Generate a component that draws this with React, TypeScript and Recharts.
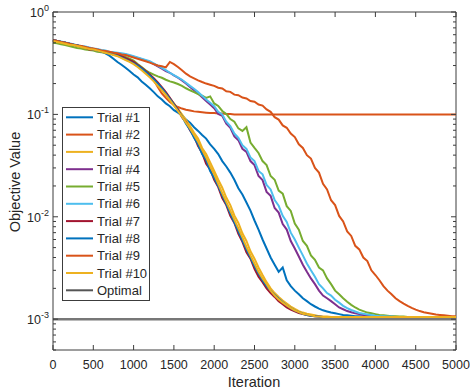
import React from "react";
import { LineChart, Line, XAxis, YAxis, Legend, ReferenceLine } from "recharts";

const iterations = [
  0, 50, 100, 150, 200, 250, 300, 350, 400, 450,
  500, 550, 600, 650, 700, 750, 800, 850, 900, 950,
  1000, 1050, 1100, 1150, 1200, 1250, 1300, 1350, 1400, 1450,
  1500, 1550, 1600, 1650, 1700, 1750, 1800, 1850, 1900, 1950,
  2000, 2050, 2100, 2150, 2200, 2250, 2300, 2350, 2400, 2450,
  2500, 2550, 2600, 2650, 2700, 2750, 2800, 2850, 2900, 2950,
  3000, 3050, 3100, 3150, 3200, 3250, 3300, 3350, 3400, 3450,
  3500, 3550, 3600, 3650, 3700, 3750, 3800, 3850, 3900, 3950,
  4000, 4050, 4100, 4150, 4200, 4250, 4300, 4350, 4400, 4450,
  4500, 4550, 4600, 4650, 4700, 4750, 4800, 4850, 4900, 4950,
  5000,
];

const trial1 = [
  0.53, 0.52, 0.51, 0.5, 0.49, 0.48, 0.47, 0.46, 0.45, 0.44,
  0.43, 0.42, 0.41, 0.395, 0.375, 0.35, 0.325, 0.305, 0.285, 0.265,
  0.245, 0.23, 0.21, 0.195, 0.18, 0.165, 0.15, 0.14, 0.128, 0.12,
  0.11, 0.104, 0.098, 0.089, 0.083, 0.075, 0.069, 0.063, 0.058, 0.051,
  0.046, 0.041, 0.035, 0.031, 0.027, 0.023, 0.019, 0.0165, 0.0138, 0.0115,
  0.0092, 0.0075, 0.006, 0.0049, 0.004, 0.0034, 0.0029, 0.0032, 0.0024, 0.0021,
  0.0019, 0.00175, 0.0016, 0.0015, 0.0014, 0.00133, 0.00127, 0.00122, 0.00119, 0.00116,
  0.00114, 0.00112, 0.0011, 0.00109, 0.00108, 0.00107, 0.00107, 0.00106, 0.00106, 0.00106,
  0.00105, 0.00105, 0.00105, 0.00105, 0.00105, 0.00105, 0.00105, 0.00105, 0.00105, 0.00105,
  0.00105, 0.00105, 0.00105, 0.00105, 0.00105, 0.00105, 0.00105, 0.00105, 0.00105, 0.00105,
  0.00105,
];

const trial2 = [
  0.53, 0.52, 0.51, 0.5, 0.49, 0.48, 0.47, 0.46, 0.45, 0.44,
  0.435, 0.425, 0.415, 0.405, 0.4, 0.39, 0.38, 0.365, 0.35, 0.335,
  0.32, 0.3, 0.28, 0.26, 0.24, 0.215, 0.185, 0.16, 0.145, 0.132,
  0.124, 0.118, 0.114, 0.111, 0.109, 0.107, 0.106, 0.105, 0.104, 0.103,
  0.103, 0.102, 0.102, 0.101, 0.101, 0.1, 0.1, 0.1, 0.1, 0.1,
  0.1, 0.1, 0.1, 0.1, 0.1, 0.1, 0.1, 0.1, 0.1, 0.1,
  0.1, 0.1, 0.1, 0.1, 0.1, 0.1, 0.1, 0.1, 0.1, 0.1,
  0.1, 0.1, 0.1, 0.1, 0.1, 0.1, 0.1, 0.1, 0.1, 0.1,
  0.1, 0.1, 0.1, 0.1, 0.1, 0.1, 0.1, 0.1, 0.1, 0.1,
  0.1, 0.1, 0.1, 0.1, 0.1, 0.1, 0.1, 0.1, 0.1, 0.1,
  0.1,
];

const trial3 = [
  0.53, 0.52, 0.505, 0.495, 0.485, 0.475, 0.465, 0.455, 0.445, 0.44,
  0.43, 0.42, 0.415, 0.405, 0.395, 0.385, 0.375, 0.36, 0.345, 0.33,
  0.315, 0.295, 0.275, 0.255, 0.235, 0.215, 0.195, 0.18, 0.16, 0.143,
  0.128, 0.113, 0.1, 0.088, 0.077, 0.066, 0.058, 0.047, 0.041, 0.034,
  0.028, 0.023, 0.0192, 0.0154, 0.013, 0.0103, 0.0087, 0.0069, 0.0058, 0.0046,
  0.0039, 0.0032, 0.0027, 0.0023, 0.002, 0.0018, 0.00165, 0.00152, 0.00142, 0.00133,
  0.00126, 0.0012, 0.00116, 0.00113, 0.00111, 0.00109, 0.00107, 0.00106, 0.00106, 0.00105,
  0.00105, 0.00105, 0.00105, 0.00105, 0.00105, 0.00105, 0.00105, 0.00105, 0.00105, 0.00105,
  0.00105, 0.00105, 0.00105, 0.00105, 0.00105, 0.00105, 0.00105, 0.00105, 0.00105, 0.00105,
  0.00105, 0.00105, 0.00105, 0.00105, 0.00105, 0.00105, 0.00105, 0.00105, 0.00105, 0.00105,
  0.00105,
];

const trial4 = [
  0.53, 0.52, 0.51, 0.5, 0.49, 0.48, 0.47, 0.46, 0.455, 0.445,
  0.435, 0.43, 0.42, 0.415, 0.405, 0.4, 0.395, 0.39, 0.385, 0.375,
  0.365, 0.355, 0.345, 0.335, 0.325, 0.31, 0.295, 0.28, 0.265, 0.255,
  0.24, 0.228, 0.215, 0.2, 0.185, 0.172, 0.16, 0.147, 0.135, 0.125,
  0.115, 0.101, 0.097, 0.081, 0.074, 0.061, 0.056, 0.046, 0.043, 0.035,
  0.032, 0.025, 0.0228, 0.0175, 0.016, 0.0122, 0.011, 0.0085, 0.0075, 0.0058,
  0.0049, 0.0041, 0.0034, 0.0029, 0.0025, 0.0022, 0.0019, 0.0017, 0.0016, 0.0015,
  0.0014, 0.0013, 0.00125, 0.0012, 0.00117, 0.00114, 0.00112, 0.0011, 0.00109, 0.00108,
  0.00107, 0.00107, 0.00106, 0.00106, 0.00106, 0.00105, 0.00105, 0.00105, 0.00105, 0.00105,
  0.00105, 0.00105, 0.00105, 0.00105, 0.00105, 0.00105, 0.00105, 0.00105, 0.00105, 0.00105,
  0.00105,
];

const trial5 = [
  0.5, 0.495, 0.485, 0.475, 0.465, 0.455, 0.445, 0.44, 0.43, 0.425,
  0.42, 0.41, 0.405, 0.4, 0.395, 0.39, 0.385, 0.375, 0.365, 0.35,
  0.335, 0.31, 0.29, 0.27, 0.255, 0.245, 0.235, 0.228, 0.218, 0.21,
  0.205, 0.198, 0.19, 0.18, 0.172, 0.165, 0.158, 0.152, 0.145, 0.15,
  0.128, 0.121, 0.108, 0.101, 0.09, 0.085, 0.073, 0.069, 0.075, 0.053,
  0.047, 0.042, 0.035, 0.032, 0.025, 0.023, 0.018, 0.0168, 0.0127, 0.0114,
  0.0086, 0.0075, 0.0058, 0.0052, 0.0042, 0.0038, 0.0032, 0.003, 0.0025, 0.0022,
  0.0019, 0.00175, 0.0016, 0.00148, 0.00138, 0.0013, 0.00124, 0.0012, 0.00116, 0.00114,
  0.00112, 0.0011, 0.00109, 0.00108, 0.00107, 0.00107, 0.00106, 0.00106, 0.00105, 0.00105,
  0.00105, 0.00105, 0.00105, 0.00105, 0.00105, 0.00105, 0.00105, 0.00105, 0.00105, 0.00105,
  0.00105,
];

const trial6 = [
  0.53, 0.52, 0.515, 0.505, 0.495, 0.485, 0.475, 0.465, 0.46, 0.45,
  0.44, 0.435, 0.425, 0.42, 0.41, 0.405, 0.4, 0.395, 0.39, 0.38,
  0.37, 0.36, 0.35, 0.34, 0.33, 0.315, 0.3, 0.285, 0.27, 0.255,
  0.242, 0.23, 0.218, 0.204, 0.19, 0.178, 0.165, 0.152, 0.14, 0.13,
  0.12, 0.106, 0.1, 0.085, 0.077, 0.065, 0.059, 0.05, 0.046, 0.038,
  0.035, 0.028, 0.026, 0.0205, 0.0185, 0.0146, 0.0128, 0.0102, 0.0089, 0.007,
  0.006, 0.005, 0.0042, 0.0035, 0.003, 0.0026, 0.0022, 0.002, 0.0018, 0.0017,
  0.00155, 0.00145, 0.00135, 0.00128, 0.00123, 0.00119, 0.00115, 0.00113, 0.00111, 0.0011,
  0.00108, 0.00107, 0.00107, 0.00106, 0.00106, 0.00105, 0.00105, 0.00105, 0.00105, 0.00105,
  0.00105, 0.00105, 0.00105, 0.00105, 0.00105, 0.00105, 0.00105, 0.00105, 0.00105, 0.00105,
  0.00105,
];

const trial7 = [
  0.53, 0.52, 0.51, 0.5, 0.49, 0.48, 0.47, 0.46, 0.45, 0.43,
  0.43, 0.425, 0.415, 0.405, 0.4, 0.39, 0.385, 0.37, 0.355, 0.34,
  0.325, 0.305, 0.285, 0.265, 0.245, 0.225, 0.205, 0.185, 0.165, 0.145,
  0.127, 0.112, 0.094, 0.084, 0.07, 0.061, 0.049, 0.042, 0.033, 0.029,
  0.023, 0.0195, 0.0152, 0.013, 0.0102, 0.0087, 0.0068, 0.0057, 0.0045, 0.0039,
  0.0031, 0.0026, 0.0023, 0.002, 0.0018, 0.00165, 0.0015, 0.0014, 0.0013, 0.00124,
  0.00119, 0.00115, 0.00112, 0.0011, 0.00108, 0.00107, 0.00106, 0.00105, 0.00105, 0.00105,
  0.00105, 0.00105, 0.00105, 0.00105, 0.00105, 0.00105, 0.00105, 0.00105, 0.00105, 0.00105,
  0.00105, 0.00105, 0.00105, 0.00105, 0.00105, 0.00105, 0.00105, 0.00105, 0.00105, 0.00105,
  0.00105, 0.00105, 0.00105, 0.00105, 0.00105, 0.00105, 0.00105, 0.00105, 0.00105, 0.00105,
  0.00105,
];

const trial8 = [
  0.53, 0.52, 0.51, 0.5, 0.49, 0.48, 0.47, 0.46, 0.45, 0.44,
  0.43, 0.42, 0.41, 0.405, 0.395, 0.385, 0.375, 0.36, 0.345, 0.33,
  0.315, 0.3, 0.28, 0.26, 0.24, 0.22, 0.2, 0.18, 0.16, 0.142,
  0.125, 0.109, 0.096, 0.081, 0.071, 0.059, 0.051, 0.041, 0.036, 0.028,
  0.024, 0.02, 0.0162, 0.0133, 0.0108, 0.0088, 0.0072, 0.0059, 0.0048, 0.004,
  0.0033, 0.0028, 0.0024, 0.0021, 0.0019, 0.00172, 0.00158, 0.00146, 0.00136, 0.00128,
  0.00122, 0.00117, 0.00113, 0.0011, 0.00108, 0.00107, 0.00106, 0.00105, 0.00105, 0.00105,
  0.00105, 0.00105, 0.00105, 0.00105, 0.00105, 0.00105, 0.00105, 0.00105, 0.00105, 0.00105,
  0.00105, 0.00105, 0.00105, 0.00105, 0.00105, 0.00105, 0.00105, 0.00105, 0.00105, 0.00105,
  0.00105, 0.00105, 0.00105, 0.00105, 0.00105, 0.00105, 0.00105, 0.00105, 0.00105, 0.00105,
  0.00105,
];

const trial9 = [
  0.53, 0.52, 0.51, 0.5, 0.49, 0.48, 0.47, 0.465, 0.455, 0.445,
  0.44, 0.43, 0.42, 0.415, 0.41, 0.4, 0.395, 0.385, 0.38, 0.37,
  0.36, 0.35, 0.34, 0.33, 0.32, 0.31, 0.3, 0.295, 0.288, 0.325,
  0.31, 0.29, 0.27, 0.25, 0.235, 0.225, 0.215, 0.207, 0.2, 0.195,
  0.19, 0.182, 0.179, 0.168, 0.166, 0.156, 0.154, 0.146, 0.143, 0.135,
  0.133, 0.125, 0.122, 0.112, 0.106, 0.094, 0.089, 0.078, 0.074, 0.065,
  0.06, 0.051, 0.047, 0.04, 0.037, 0.03, 0.027, 0.021, 0.0185, 0.0145,
  0.013, 0.0102, 0.009, 0.0072, 0.0065, 0.0052, 0.0048, 0.004, 0.0037, 0.003,
  0.0027, 0.0024, 0.0021, 0.0019, 0.00175, 0.0016, 0.0015, 0.00142, 0.00135, 0.00129,
  0.00124, 0.0012, 0.00117, 0.00115, 0.00113, 0.00111, 0.0011, 0.00109, 0.00108, 0.00107,
  0.00107,
];

const trial10 = [
  0.52, 0.51, 0.5, 0.49, 0.48, 0.475, 0.465, 0.455, 0.445, 0.435,
  0.43, 0.42, 0.41, 0.4, 0.39, 0.38, 0.37, 0.355, 0.34, 0.325,
  0.31, 0.29, 0.27, 0.25, 0.23, 0.21, 0.19, 0.172, 0.155, 0.138,
  0.122, 0.108, 0.095, 0.083, 0.073, 0.063, 0.054, 0.045, 0.038, 0.031,
  0.026, 0.021, 0.017, 0.014, 0.0115, 0.0094, 0.0077, 0.0063, 0.0051, 0.0042,
  0.0035, 0.0029, 0.0025, 0.0022, 0.0019, 0.0017, 0.00156, 0.00145, 0.00136, 0.00128,
  0.00122, 0.00117, 0.00113, 0.00111, 0.00109, 0.00107, 0.00106, 0.00105, 0.00105, 0.00105,
  0.00105, 0.00105, 0.00105, 0.00105, 0.00105, 0.00105, 0.00105, 0.00105, 0.00105, 0.00105,
  0.00105, 0.00105, 0.00105, 0.00105, 0.00105, 0.00105, 0.00105, 0.00105, 0.00105, 0.00105,
  0.00105, 0.00105, 0.00105, 0.00105, 0.00105, 0.00105, 0.00105, 0.00105, 0.00105, 0.00105,
  0.00105,
];

const optimalValue = 0.001;

const trials = [trial1, trial2, trial3, trial4, trial5, trial6, trial7, trial8, trial9, trial10];
const trialNames = ["Trial #1", "Trial #2", "Trial #3", "Trial #4", "Trial #5", "Trial #6", "Trial #7", "Trial #8", "Trial #9", "Trial #10"];
const trialColors = ["#0072BD", "#D95319", "#EDB120", "#7E2F8E", "#77AC30", "#4DBEEE", "#A2142F", "#0072BD", "#D95319", "#EDB120"];

const xTicks = [0, 500, 1000, 1500, 2000, 2500, 3000, 3500, 4000, 4500, 5000];
const yTicks = [
  0.0005, 0.0006, 0.0007, 0.0008, 0.0009,
  0.001, 0.002, 0.003, 0.004, 0.005, 0.006, 0.007, 0.008, 0.009,
  0.01, 0.02, 0.03, 0.04, 0.05, 0.06, 0.07, 0.08, 0.09,
  0.1, 0.2, 0.3, 0.4, 0.5, 0.6, 0.7, 0.8, 0.9,
  1,
];

const data = iterations.map((it, i) => {
  const row: Record<string, number> = { it, optimal: optimalValue };
  trials.forEach((t, k) => (row[`t${k + 1}`] = t[i]));
  return row;
});

// plot box (px)
const PL = 53;
const PR = 456;
const PT = 12;
const PB = 350;
const AXIS = "#3c3c3c";
const TEXT = "#262626";
const FONT = '"Liberation Sans", Arial, Helvetica, sans-serif';

function XTick(props: any) {
  const { x, payload } = props;
  return (
    <g>
      <line x1={x} x2={x} y1={PB} y2={PB - 5} stroke={AXIS} />
      <line x1={x} x2={x} y1={PT} y2={PT + 5} stroke={AXIS} />
      <text x={x} y={PB + 19} textAnchor="middle" fontSize={12.5} fill={TEXT}>
        {payload.value}
      </text>
    </g>
  );
}

function YTick(props: any) {
  const { y, payload } = props;
  const lg = Math.log10(payload.value);
  const major = Math.abs(lg - Math.round(lg)) < 1e-6;
  const len = major ? 5 : 3;
  return (
    <g>
      <line x1={PL} x2={PL + len} y1={y} y2={y} stroke={AXIS} />
      <line x1={PR} x2={PR - len} y1={y} y2={y} stroke={AXIS} />
      {major && (
        <text x={PL - 4} y={y + 5} textAnchor="end" fontSize={12.5} fill={TEXT}>
          <tspan>10</tspan>
          <tspan dy={-6} fontSize={9}>{Math.round(lg)}</tspan>
        </text>
      )}
    </g>
  );
}

function LegendBox() {
  const names = [...trialNames, "Optimal"];
  const colors = [...trialColors, "#555555"];
  return (
    <svg width={88} height={194} style={{ display: "block" }}>
      <rect x={0.5} y={0.5} width={87} height={193} fill="#fff" stroke={AXIS} />
      {names.map((n, i) => {
        const cy = 10.3 + i * 17.3;
        return (
          <g key={n}>
            <line x1={4} x2={31} y1={cy} y2={cy} stroke={colors[i]} strokeWidth={2} />
            <text x={35} y={cy + 4.5} fontSize={13} fill={TEXT} fontFamily={FONT}>
              {n}
            </text>
          </g>
        );
      })}
    </svg>
  );
}

export default function App() {
  return (
    <div style={{ position: "absolute", left: 0, top: 0, width: 470, height: 390, background: "#fff", fontFamily: FONT }}>
      <LineChart width={470} height={390} data={data} margin={{ top: PT, right: 470 - PR, bottom: 0, left: 8 }}>
        <XAxis
          dataKey="it"
          type="number"
          domain={[0, 5000]}
          ticks={xTicks}
          interval={0}
          height={390 - PB}
          tickLine={false}
          axisLine={{ stroke: AXIS }}
          tick={<XTick />}
          label={{
            content: () => (
              <text x={254} y={387} textAnchor="middle" fontSize={14.5} fill={TEXT}>
                Iteration
              </text>
            ),
          }}
        />
        <YAxis
          scale="log"
          domain={[0.0005, 1]}
          allowDataOverflow
          ticks={yTicks}
          interval={0}
          width={PL - 8}
          tickLine={false}
          axisLine={{ stroke: AXIS }}
          tick={<YTick />}
          label={{
            content: () => (
              <text x={15} y={182} transform="rotate(-90 15 182)" textAnchor="middle" dy={5} fontSize={14.5} fill={TEXT}>
                Objective Value
              </text>
            ),
          }}
        />
        <ReferenceLine x={5000} stroke={AXIS} />
        <ReferenceLine y={1} stroke={AXIS} />
        {trials.map((_, k) => (
          <Line
            key={k}
            type="linear"
            dataKey={`t${k + 1}`}
            name={trialNames[k]}
            stroke={trialColors[k]}
            strokeWidth={2}
            dot={false}
            isAnimationActive={false}
          />
        ))}
        <Line
          type="linear"
          dataKey="optimal"
          name="Optimal"
          stroke="#777777"
          strokeWidth={2.5}
          dot={false}
          isAnimationActive={false}
        />
        <Legend
          layout="vertical"
          align="center"
          verticalAlign="middle"
          content={() => <LegendBox />}
          wrapperStyle={{ left: 62, top: 107, width: 88, height: 194 }}
        />
      </LineChart>
    </div>
  );
}
